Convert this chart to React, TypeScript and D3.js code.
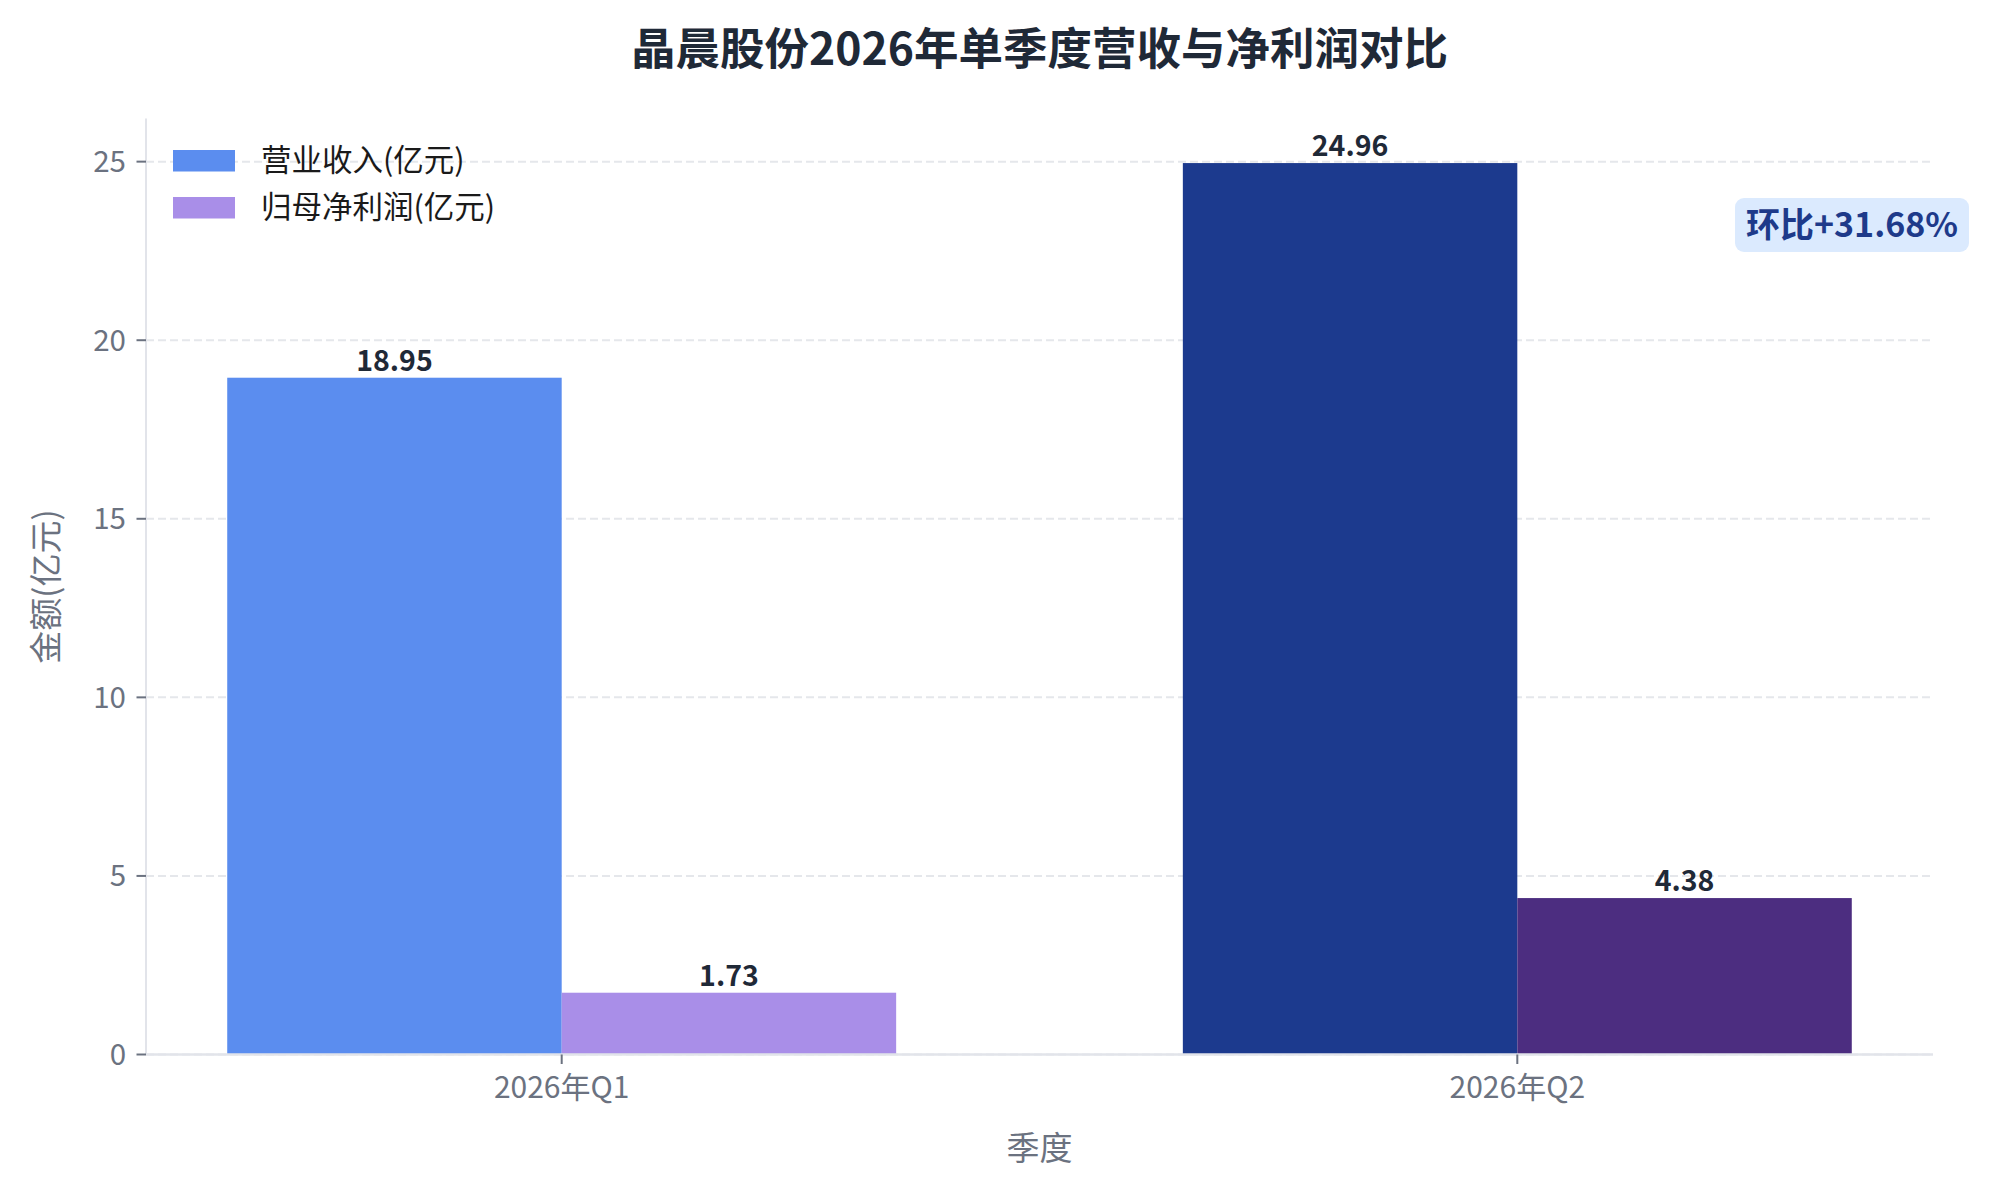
import React from "react";
import * as d3 from "d3";

const categories = ["2026年Q1", "2026年Q2"];
const revenue = [18.95, 24.96];
const netProfit = [1.73, 4.38];
const revenueColors = ["#5B8DEF", "#1C3A8E"];
const profitColors = ["#A98EE8", "#4C2D80"];
const yTicks = [0, 5, 10, 15, 20, 25];
const legendLabels = ["营业收入(亿元)", "归母净利润(亿元)"];
const legendColors = ["#5B8DEF", "#A98EE8"];
const title = "晶晨股份2026年单季度营收与净利润对比";
const qoqText = "环比+31.68%";

const W = 2000;
const H = 1200;
const FONT = "'Noto Sans CJK SC', 'Noto Sans', sans-serif";

export default function App() {
  const left = 146;
  const right = 1933;
  const top = 118.5;
  const bottom = 1054.5;
  const barW = 0.35;

  const x = d3.scaleLinear().domain([-0.435, 1.435]).range([left, right]);
  const yMax = Math.max(...revenue, ...netProfit) * 1.05;
  const y = d3.scaleLinear().domain([0, yMax]).range([bottom, top]);

  const bars: { x0: number; x1: number; v: number; color: string }[] = [];
  categories.forEach((_, i) => {
    bars.push({ x0: x(i - barW), x1: x(i), v: revenue[i], color: revenueColors[i] });
    bars.push({ x0: x(i), x1: x(i + barW), v: netProfit[i], color: profitColors[i] });
  });

  const cx = (left + right) / 2;
  const cy = (top + bottom) / 2;

  return (
    <svg
      width={W}
      height={H}
      style={{ position: "absolute", left: 0, top: 0, background: "#fff" }}
      fontFamily={FONT}
    >
      <rect x={0} y={0} width={W} height={H} fill="#fff" />
      {/* grid */}
      {yTicks.map((t) => (
        <line
          key={"g" + t}
          x1={left}
          x2={right}
          y1={y(t)}
          y2={y(t)}
          stroke="#E5E7EB"
          strokeWidth={2}
          strokeDasharray="8,4"
        />
      ))}
      {/* bars */}
      {bars.map((b, i) => (
        <rect key={"b" + i} x={b.x0} y={y(b.v)} width={b.x1 - b.x0} height={y(0) - y(b.v)} fill={b.color} />
      ))}
      {/* value labels */}
      {bars.map((b, i) => (
        <text
          key={"v" + i}
          x={(b.x0 + b.x1) / 2}
          y={y(b.v) - 7}
          textAnchor="middle"
          fontSize={28.5}
          fontWeight="bold"
          fill="#1F2937"
        >
          {b.v.toFixed(2)}
        </text>
      ))}
      {/* spines */}
      <line x1={left} x2={left} y1={top} y2={bottom} stroke="#E2E4EA" strokeWidth={2} />
      <line x1={left} x2={right} y1={bottom} y2={bottom} stroke="#E2E4EA" strokeWidth={2.5} />
      {/* y ticks */}
      {yTicks.map((t) => (
        <g key={"yt" + t}>
          <line x1={left - 9.5} x2={left} y1={y(t)} y2={y(t)} stroke="#6B7280" strokeWidth={2} />
          <text x={left - 20} y={y(t)} dy="0.35em" textAnchor="end" fontSize={29.5} fill="#6B7280">
            {t}
          </text>
        </g>
      ))}
      {/* x ticks */}
      {categories.map((c, i) => (
        <g key={"xt" + i}>
          <line x1={x(i)} x2={x(i)} y1={bottom} y2={bottom + 9.5} stroke="#6B7280" strokeWidth={2} />
          <text x={x(i)} y={1098} textAnchor="middle" fontSize={30} fill="#6B7280">
            {c}
          </text>
        </g>
      ))}
      {/* axis labels */}
      <text x={cx} y={1160} textAnchor="middle" fontSize={33} fill="#6B7280">
        季度
      </text>
      <text
        transform={`translate(46,${cy}) rotate(-90)`}
        textAnchor="middle"
        dy="0.35em"
        fontSize={33}
        fill="#6B7280"
      >
        金额(亿元)
      </text>
      {/* title */}
      <text x={cx} y={65} textAnchor="middle" fontSize={44.5} fontWeight="bold" fill="#1F2937">
        {title}
      </text>
      {/* legend */}
      {legendLabels.map((l, i) => (
        <g key={"l" + i}>
          <rect x={173} y={150 + i * 47} width={62} height={21.5} fill={legendColors[i]} />
          <text x={261} y={160.5 + i * 47} dy="0.35em" fontSize={30.5} fill="#1a1a1a">
            {l}
          </text>
        </g>
      ))}
      {/* QoQ annotation */}
      <rect x={1735} y={198} width={234} height={54} rx={9} ry={9} fill="#DBEAFE" />
      <text x={1852} y={225} dy="0.35em" textAnchor="middle" fontSize={34} fontWeight="bold" fill="#1E3A8A">
        {qoqText}
      </text>
    </svg>
  );
}
